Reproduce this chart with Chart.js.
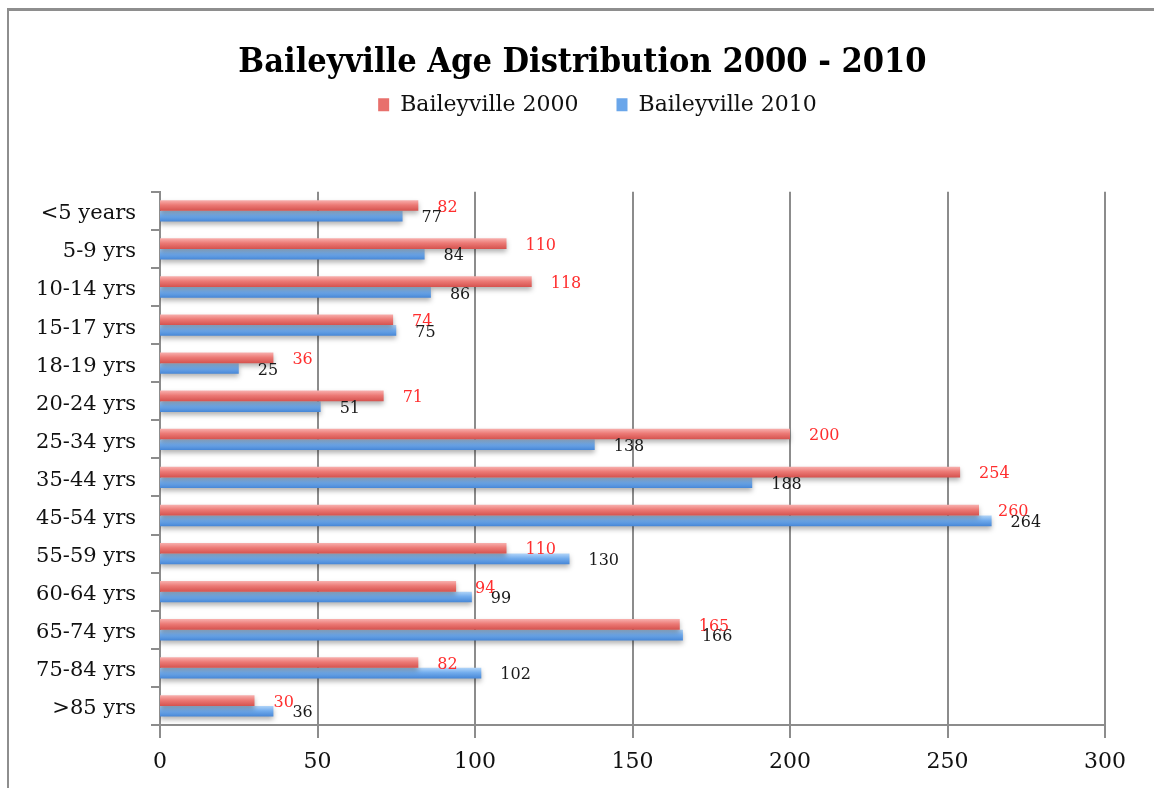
<!DOCTYPE html>
<html><head><meta charset="utf-8">
<script src="https://cdn.jsdelivr.net/npm/chart.js@4.4.1/dist/chart.umd.min.js"></script>
<style>
html,body{margin:0;padding:0;background:#fff;}
#wrap{position:relative;width:1154px;height:788px;overflow:hidden;}
#frame{position:absolute;left:7px;top:8px;width:1300px;height:900px;border-top:3px solid #8e8e8e;border-left:2px solid #8e8e8e;box-sizing:border-box;}
canvas{position:absolute;left:0;top:0;}
</style></head><body>
<div id="wrap"><div id="frame"></div><canvas id="c" width="1154" height="788"></canvas></div>
<script>
const categories = ['<5 years','5-9 yrs','10-14 yrs','15-17 yrs','18-19 yrs','20-24 yrs','25-34 yrs','35-44 yrs','45-54 yrs','55-59 yrs','60-64 yrs','65-74 yrs','75-84 yrs','>85 yrs'];
const values2000 = [82,110,118,74,36,71,200,254,260,110,94,165,82,30];
const values2010 = [77,84,86,75,25,51,138,188,264,130,99,166,102,36];
const xTicks = [0,50,100,150,200,250,300];
const seriesNames = ['Baileyville 2000','Baileyville 2010'];

const SERIF = "'DejaVu Serif', 'Liberation Serif', serif";
const GRID = '#8c8c8c';
const baseColors = ['#e8706c', '#6aa6ea'];

const gradStops = [
  [[0,'#f8b0ae'],[0.45,'#ec7a76'],[1,'#d5524e']],
  [[0,'#b0d4f8'],[0.45,'#72aced'],[1,'#4686d6']]
];

const barStyle = {
  id: 'barStyle',
  afterLayout(chart){
    chart.titleBlock.left += 30; chart.titleBlock.right += 30;
    chart.legend.left += 45; chart.legend.right += 45;
  },
  beforeDatasetsDraw(chart){
    const ctx = chart.ctx;
    chart.data.datasets.forEach((ds, i) => {
      const meta = chart.getDatasetMeta(i);
      meta.data.forEach(el => {
        const h = el.height;
        const g = ctx.createLinearGradient(0, el.y - h/2, 0, el.y + h/2);
        gradStops[i].forEach(s => g.addColorStop(s[0], s[1]));
        el.options = Object.assign({}, el.options, { backgroundColor: g });
      });
    });
    ctx.save();
    ctx.shadowColor = 'rgba(0,0,0,0.3)';
    ctx.shadowBlur = 5;
    ctx.shadowOffsetY = 3;
  },
  afterDatasetsDraw(chart){
    const ctx = chart.ctx;
    ctx.restore();
    ctx.save();
    ctx.font = '16px ' + SERIF;
    ctx.textAlign = 'left';
    ctx.textBaseline = 'middle';
    const colors = ['#ff2e2e', '#1a1a1a'];
    chart.data.datasets.forEach((ds, i) => {
      const meta = chart.getDatasetMeta(i);
      ctx.fillStyle = colors[i];
      meta.data.forEach((el, j) => {
        ctx.fillText(String(ds.data[j]), el.x + 19, el.y + 2);
      });
    });
    ctx.restore();
  }
};

new Chart(document.getElementById('c'), {
  type: 'bar',
  data: {
    labels: categories,
    datasets: [
      { label: seriesNames[0], data: values2000, backgroundColor: () => baseColors[0], categoryPercentage: 0.56, barPercentage: 1 },
      { label: seriesNames[1], data: values2010, backgroundColor: () => baseColors[1], categoryPercentage: 0.56, barPercentage: 1 }
    ]
  },
  options: {
    indexAxis: 'y',
    responsive: false,
    animation: false,
    devicePixelRatio: 1,
    layout: { padding: { left: 0, right: 49, top: 0, bottom: 0 } },
    plugins: {
      title: {
        display: true,
        text: 'Baileyville Age Distribution 2000 - 2010',
        color: '#000',
        font: { family: "'DejaVu Serif Condensed', 'Liberation Serif', serif", size: 34, weight: 'bold', lineHeight: 1.2 },
        padding: { top: 43, bottom: -28 }
      },
      legend: {
        display: true,
        position: 'top',
        labels: {
          color: '#111',
          font: { family: SERIF, size: 22 },
          boxWidth: 11,
          boxHeight: 13,
          padding: 38
        }
      },
      tooltip: { enabled: false }
    },
    scales: {
      xTop: {
        type: 'linear', position: 'top', display: true,
        grid: { display: false }, border: { display: false }, ticks: { display: false },
        afterFit(s){ s.height = 66; }
      },
      x: {
        type: 'linear', position: 'bottom', min: 0, max: 300,
        afterBuildTicks(s){ s.ticks = xTicks.map(v => ({ value: v })); },
        grid: { color: GRID, lineWidth: 2, tickLength: 13, tickColor: GRID },
        border: { display: true, color: GRID, width: 2 },
        ticks: { color: '#111', font: { family: SERIF, size: 22 }, padding: 11, maxRotation: 0 },
        afterFit(s){ s.height = 63; }
      },
      y: {
        type: 'category',
        grid: { offset: true, drawOnChartArea: false, drawTicks: true, tickLength: 9, color: GRID, lineWidth: 2 },
        border: { display: true, color: GRID, width: 2 },
        ticks: { color: '#111', font: { family: SERIF, size: 21 }, padding: 15, autoSkip: false, labelOffset: 3 },
        afterFit(s){ s.width = 160; }
      }
    }
  },
  plugins: [barStyle]
});
</script>
</body></html>
